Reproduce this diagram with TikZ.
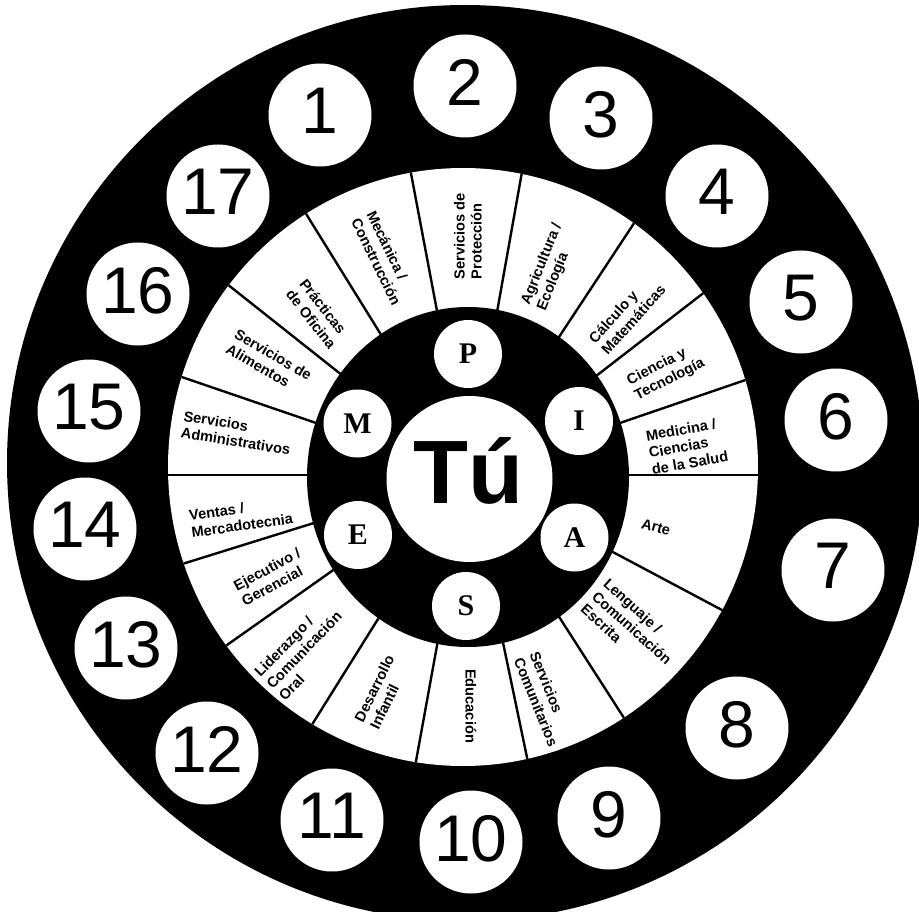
\documentclass[tikz,border=0pt]{standalone}
\usepackage{fontspec}
\setmainfont{Liberation Sans}
\newfontfamily\serifL{Liberation Serif}
\begin{document}
\begin{tikzpicture}[x=1pt,y=-1pt,
  numc/.style={circle,fill=white,draw=none,minimum size=103pt,inner sep=0pt,
    font=\fontsize{66}{66}\selectfont,text depth=8pt},
  letc/.style={circle,fill=white,draw=none,minimum size=68pt,inner sep=0pt,
    font=\serifL\bfseries\fontsize{30}{30}\selectfont},
  lab/.style={font=\bfseries\fontsize{14.6}{17}\selectfont,align=left,inner sep=0pt},
  divider/.style={line width=2.4pt,black}]
\clip (0,0) rectangle (919,912);
\fill[white] (0,0) rectangle (919,912);
% outer black disc
\fill[black] (465,463) circle[radius=458];
% white ring of fields
\fill[white] (463,467) ellipse[x radius=295, y radius=299];
\coordinate (hub) at (468,475);
\begin{scope}
  \clip (463,467) ellipse[x radius=295, y radius=299];
  \foreach \a in {0,18.9,37.7,56.6,79.9,100.7,121.8,141.6,161.1,180,197.3,215.2,238,259.7,281.8,302.7,332}
    \draw[divider] (hub) -- ++(-\a:420);
\end{scope}
% inner black disc
\fill[black] (468,477) ellipse[x radius=161, y radius=170];
% centre
\node[circle,fill=white,minimum size=166pt,inner sep=0pt] (tucirc) at (469.5,479) {};
\node[anchor=base,font=\bfseries\fontsize{90}{90}\selectfont,inner sep=0pt] (tu) at (468,503) {Tú};
% letter circles
\node[letc] (P) at (468,354) {P};
\node[letc] (I) at (579,421) {I};
\node[letc] (A) at (574.5,537.5) {A};
\node[letc] (S) at (466,606) {S};
\node[letc] (E) at (358,535) {E};
\node[letc] (M) at (357.5,423.5) {M};
% numbers
\node[numc] (n1) at (320,115) {1};
\node[numc] (n2) at (465,86) {2};
\node[numc] (n3) at (601,118) {3};
\node[numc] (n4) at (717,196) {4};
\node[numc] (n5) at (801,302) {5};
\node[numc] (n6) at (836,420) {6};
\node[numc] (n7) at (833,570) {7};
\node[numc] (n8) at (737,728) {8};
\node[numc] (n9) at (609,818) {9};
\node[numc] (n10) at (471,842) {10};
\node[numc] (n11) at (332,820) {11};
\node[numc] (n12) at (207,753) {12};
\node[numc] (n13) at (126,648) {13};
\node[numc] (n14) at (85,529) {14};
\node[numc] (n15) at (89,411) {15};
\node[numc] (n16) at (138,294) {16};
\node[numc] (n17) at (218,196) {17};
% field labels
\node[lab,rotate=-64] (f1) at (384,258) {Mecánica /\\Construcción};
\node[lab,rotate=90] (f2) at (468,236) {Servicios de\\Protección};
\node[lab,rotate=68] (f3) at (550,267) {Agricultura /\\Ecología};
\node[lab,rotate=48] (f4) at (627,314) {Cálculo y\\Matemáticas};
\node[lab,rotate=27] (f5) at (666,372) {Ciencia y\\Tecnología};
\node[lab,rotate=10] (f6) at (687,446) {Medicina /\\Ciencias\\de la Salud};
\node[lab,rotate=-15] (f7) at (656,527) {Arte};
\node[lab,rotate=-42] (f8) at (632,628) {Lenguaje /\\Comunicación\\Escrita};
\node[lab,rotate=-68] (f9) at (544,699) {Servicios\\Comunitarios};
\node[lab,rotate=-90] (f10) at (471,706) {Educación};
\node[lab,rotate=64] (f11) at (382,692) {Desarrollo\\Infantil};
\node[lab,rotate=46] (f12) at (304,650) {Liderazgo /\\Comunicación\\Oral};
\node[lab,rotate=28] (f13) at (271,577) {Ejecutivo /\\Gerencial};
\node[lab,rotate=8] (f14) at (241,517) {Ventas /\\Mercadotecnia};
\node[lab,rotate=-9] (f15) at (237,433) {Servicios\\Administrativos};
\node[lab,rotate=-30] (f16) at (269,362) {Servicios de\\Alimentos};
\node[lab,rotate=-52] (f17) at (318,314) {Prácticas\\de Oficina};
\end{tikzpicture}
\end{document}
